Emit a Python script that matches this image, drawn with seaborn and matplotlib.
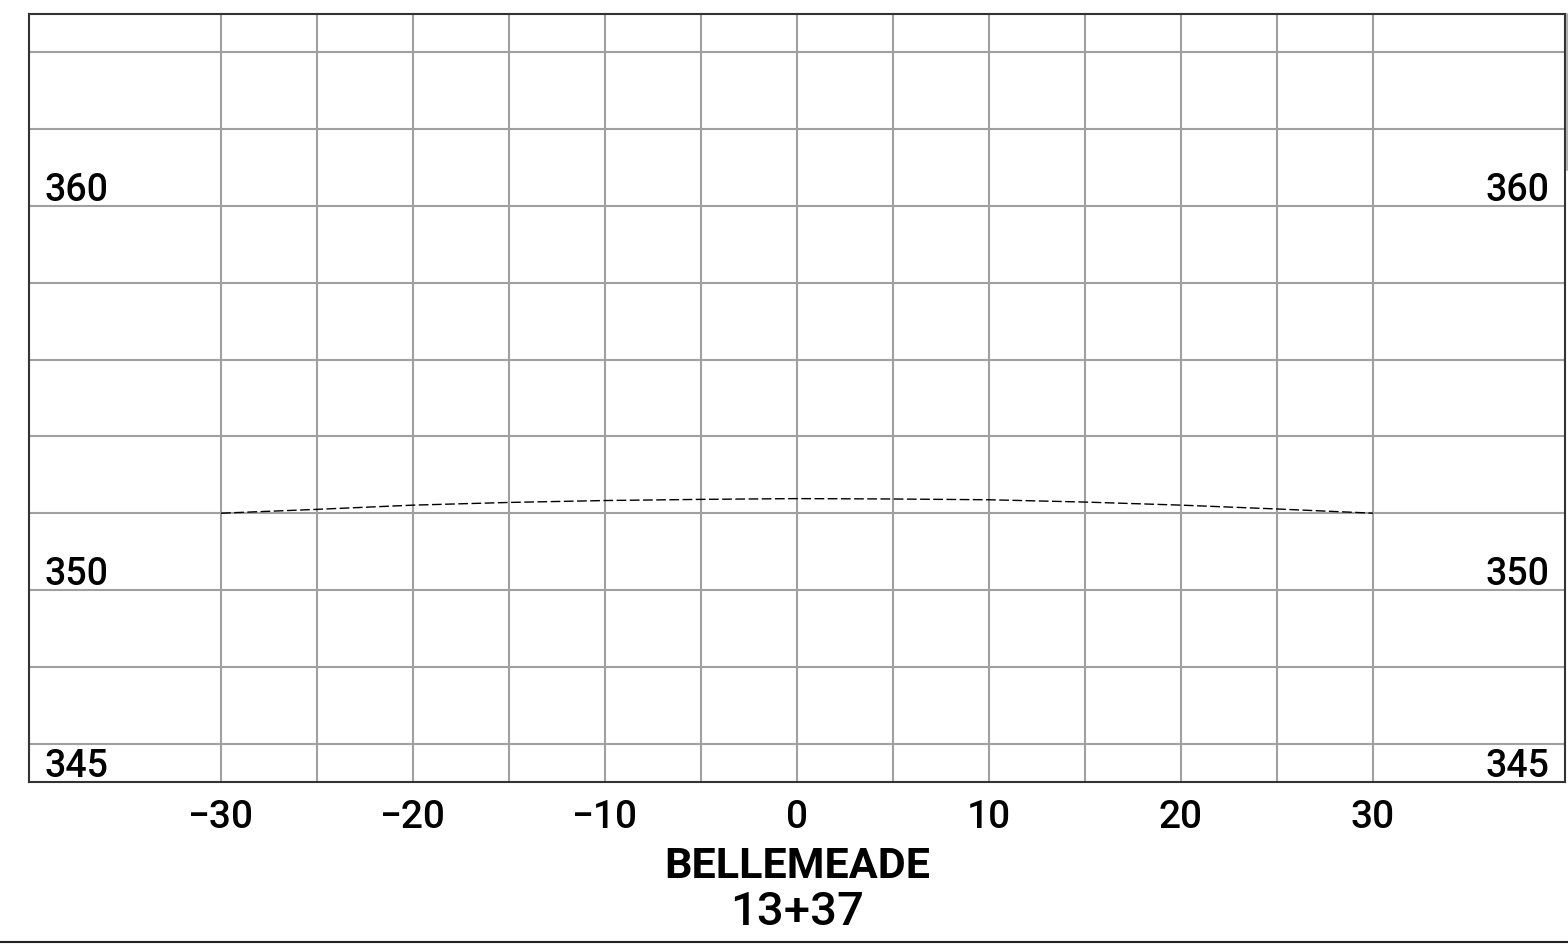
import numpy as np
import pandas as pd
import matplotlib
matplotlib.use("Agg")
import matplotlib.pyplot as plt
import seaborn as sns
from matplotlib.lines import Line2D
from matplotlib.transforms import blended_transform_factory

# profile (offset vs elevation)
offsets = [-30, -25, -20, -15, -10, -5, 0, 5, 10, 15, 20, 25, 30]
elevations = [352.00, 352.10, 352.21, 352.28, 352.33, 352.36, 352.38,
              352.37, 352.35, 352.29, 352.21, 352.11, 352.00]

x_labels = [-30, -20, -10, 0, 10, 20, 30]
x_grid = [-30, -25, -20, -15, -10, -5, 0, 5, 10, 15, 20, 25, 30]
y_grid = [346, 348, 350, 352, 354, 356, 358, 360, 362, 364]
elev_labels = [345, 350, 360]
title_lines = ["BELLEMEADE", "13+37"]

sns.set_style("white")
plt.rcParams['font.family'] = ['Roboto', 'DejaVu Sans']
plt.rcParams['text.color'] = 'black'
plt.rcParams['xtick.color'] = 'black'

df = pd.DataFrame({'offset': offsets, 'elev': elevations})

fig = plt.figure(figsize=(15.68, 9.52), dpi=100)
ax = fig.add_axes([29 / 1568, 1 - 782 / 952, (1565 - 29) / 1568, (782 - 14) / 952])

ax.set_xlim(-40, 40)
ax.set_ylim(345, 365)

for gx in x_grid:
    ax.axvline(gx, color='#a0a0a0', lw=1.5, zorder=1)
for gy in y_grid:
    ax.axhline(gy, color='#a0a0a0', lw=1.5, zorder=1)

sns.lineplot(data=df, x='offset', y='elev', ax=ax, color='black', lw=1.0,
             dashes=False, zorder=3)
ax.lines[-1].set_dashes((7, 2.5))

ax.set_xticks(x_labels)
ax.set_xticklabels([str(v).replace('-', '\u2212') for v in x_labels],
                   fontsize=28, fontweight='medium', color='black')
ax.set_yticks([])
ax.tick_params(axis='x', length=0, pad=12)
ax.set_xlabel('')
ax.set_ylabel('')

for s in ax.spines.values():
    s.set_color('#333333')
    s.set_linewidth(1.5)

trl = blended_transform_factory(ax.transAxes, ax.transData)
for v in elev_labels:
    ax.annotate(str(v), xy=(0, v), xycoords=trl, xytext=(11, -2),
                textcoords='offset points', ha='left', va='bottom',
                fontsize=27, fontweight='medium', color='black')
    ax.annotate(str(v), xy=(1, v), xycoords=trl, xytext=(-11, -2),
                textcoords='offset points', ha='right', va='bottom',
                fontsize=27, fontweight='medium', color='black')

fig.text(797 / 1568, 1 - 866 / 952, title_lines[0], ha='center', va='center',
         fontsize=31, fontweight='bold', color='black')
fig.text(797 / 1568, 1 - 912 / 952, title_lines[1], ha='center', va='center',
         fontsize=34, fontweight='medium', color='black')

fig.add_artist(Line2D([0, 1], [1 - 942 / 952, 1 - 942 / 952], color='#222222', lw=1.5,
                      transform=fig.transFigure))
fig.add_artist(Line2D([1567 / 1568, 1567 / 1568], [1 - 14 / 952, 1 - 170 / 952],
                      color='#b0b0b0', lw=1.5, transform=fig.transFigure))

fig.savefig('out.png', dpi=100, facecolor='white')
